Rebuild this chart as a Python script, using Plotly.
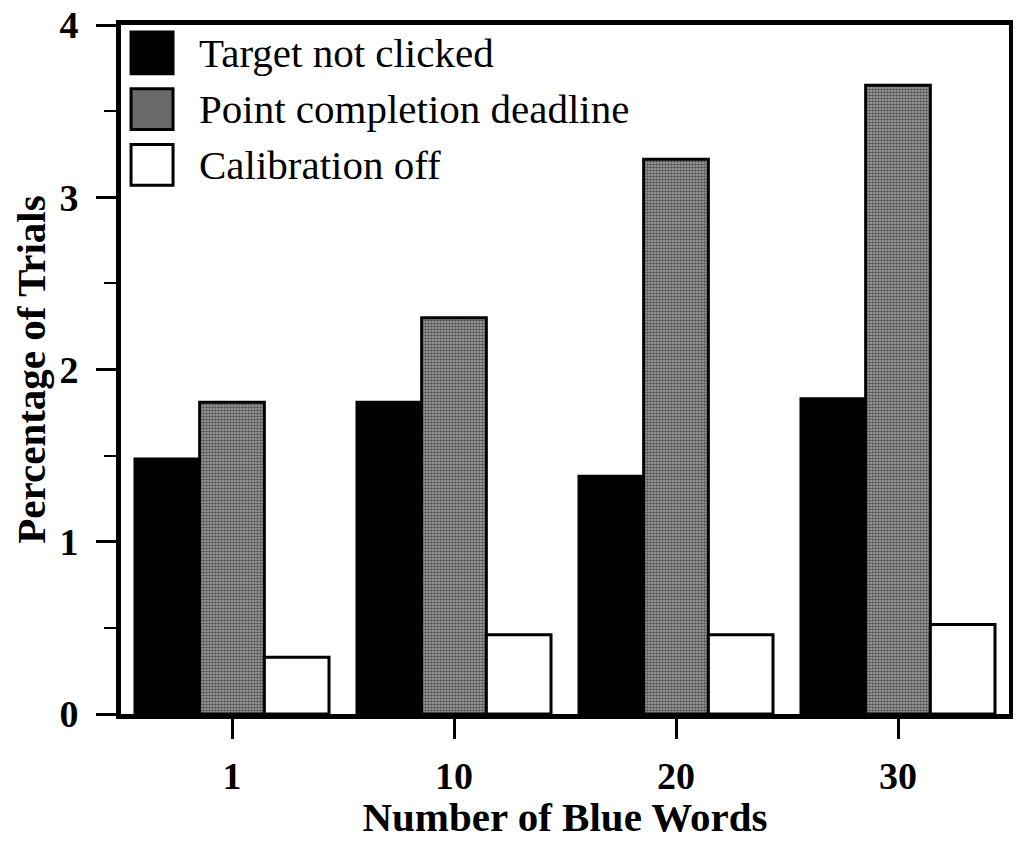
import plotly.graph_objects as go

categories = ["1", "10", "20", "30"]
target_not_clicked = [1.48, 1.81, 1.38, 1.83]
point_completion_deadline = [1.81, 2.30, 3.22, 3.65]
calibration_off = [0.33, 0.46, 0.46, 0.52]
legend_labels = ["Target not clicked", "Point completion deadline", "Calibration off"]

FONT = "Liberation Serif, Times New Roman, serif"

fig = go.Figure()
fig.add_trace(go.Bar(x=categories, y=target_not_clicked, name=legend_labels[0],
                     marker=dict(color="black", line=dict(color="black", width=3))))
fig.add_trace(go.Bar(x=categories, y=point_completion_deadline, name=legend_labels[1],
                     marker=dict(color="#6f6f6f", line=dict(color="black", width=3),
                                 pattern=dict(shape=".", fgcolor="#000000", bgcolor="#a8a8a8",
                                              size=3, solidity=0.55))))
fig.add_trace(go.Bar(x=categories, y=calibration_off, name=legend_labels[2],
                     marker=dict(color="white", line=dict(color="black", width=3))))

# manual legend (large swatches)
sw_fill = ["black", "#6a6a6a", "white"]
sw_y = [(0.9292, 0.9899), (0.8483, 0.9075), (0.7673, 0.8266)]
for lab, fill, (y0, y1) in zip(legend_labels, sw_fill, sw_y):
    fig.add_shape(type="rect", xref="paper", yref="paper", x0=0.0113, x1=0.0586,
                  y0=y0, y1=y1, fillcolor=fill, line=dict(color="black", width=3))
    fig.add_annotation(xref="paper", yref="paper", x=0.0856, y=(y0 + y1) / 2,
                       xanchor="left", yanchor="middle", text=lab, showarrow=False,
                       font=dict(family=FONT, size=41, color="black"))

fig.update_layout(
    width=1005, height=832,
    margin=dict(l=113, r=4, t=17, b=126),
    paper_bgcolor="white", plot_bgcolor="white",
    barmode="group", bargap=0.126, bargroupgap=0,
    showlegend=False,
    font=dict(family=FONT, color="black"),
)
fig.update_xaxes(
    showline=True, linecolor="black", linewidth=5, mirror=True,
    ticks="outside", ticklen=20, tickwidth=3, tickcolor="black",
    tickfont=dict(family=FONT, size=38, color="black", weight="bold"),
    ticklabelstandoff=4,
    title=dict(text="<b>Number of Blue Words</b>", font=dict(family=FONT, size=41, color="black"),
               standoff=4),
    showgrid=False, automargin=False,
)
fig.update_yaxes(
    range=[0, 4], tickvals=[0, 1, 2, 3, 4],
    showline=True, linecolor="black", linewidth=5, mirror="allticks",
    ticks="outside", ticklen=20, tickwidth=3, tickcolor="black",
    minor=dict(ticks="outside", dtick=0.5, tick0=0, ticklen=12, tickwidth=2, tickcolor="black"),
    tickfont=dict(family=FONT, size=38, color="black", weight="bold"),
    ticklabelstandoff=10, ticklabeloverflow="allow",
    title=dict(text="<b>Percentage of Trials</b>", font=dict(family=FONT, size=41, color="black"),
               standoff=19),
    showgrid=False, zeroline=False, automargin=False,
)

fig.write_html("out.html")
